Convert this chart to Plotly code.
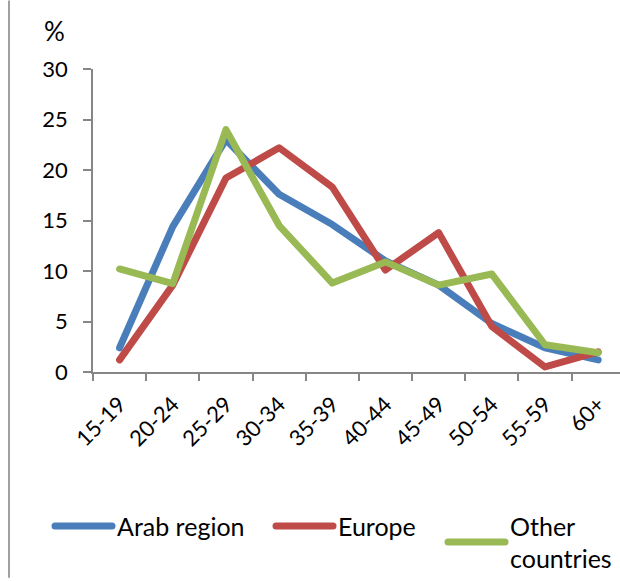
import plotly.graph_objects as go

categories = ["15-19", "20-24", "25-29", "30-34", "35-39", "40-44", "45-49", "50-54", "55-59", "60+"]
arab_region = [2.4, 14.4, 23.0, 17.6, 14.6, 11.0, 8.6, 4.8, 2.4, 1.2]
europe = [1.2, 8.6, 19.2, 22.2, 18.3, 10.1, 13.8, 4.5, 0.5, 2.0]
other_countries = [10.2, 8.75, 24.0, 14.5, 8.8, 10.9, 8.6, 9.7, 2.7, 1.9]
y_ticks = [0, 5, 10, 15, 20, 25, 30]

FONT = "Lato"
fig = go.Figure()
series = [
    ("Arab region", arab_region, "#4A7EBB", "legend"),
    ("Europe", europe, "#BE4B48", "legend2"),
    ("Other<br>countries", other_countries, "#98B954", "legend3"),
]
for name, vals, color, leg in series:
    fig.add_trace(go.Scatter(
        x=categories, y=vals, mode="lines", name=name,
        line=dict(color=color, width=7), legend=leg,
    ))

W, H = 620, 581
ml, mt, mb = 93, 69, 207
pw = W - ml
ph = H - mt - mb

def px2x(p):
    return (p - ml) / pw

def px2y(p):
    return (H - mb - p) / ph

leg_common = dict(orientation="h", bgcolor="rgba(0,0,0,0)",
                  font=dict(family=FONT, size=25, color="#000"),
                  xanchor="left", yanchor="top", tracegroupgap=0,
                  itemwidth=57)

fig.update_layout(
    width=W, height=H,
    margin=dict(l=ml, r=0, t=mt, b=mb),
    plot_bgcolor="white", paper_bgcolor="white",
    font=dict(family=FONT, size=22, color="#000"),
    xaxis=dict(
        type="category", range=[-0.5, 9.41],
        showline=True, linecolor="#868686", linewidth=1.5,
        ticks="outside", ticklen=7, tickcolor="#868686", tickwidth=1.5,
        tickson="boundaries", tickangle=-45, showgrid=False, zeroline=False,
        ticklabelstandoff=9,
        tickfont=dict(family=FONT, size=22, color="#000"),
    ),
    yaxis=dict(
        range=[0, 30], tickvals=y_ticks,
        showline=True, linecolor="#868686", linewidth=1.5,
        ticks="outside", ticklen=8, tickcolor="#868686", tickwidth=1.5,
        showgrid=False, zeroline=False, ticklabelstandoff=11,
        tickfont=dict(family=FONT, size=22, color="#000"),
    ),
    legend=dict(x=px2x(50), y=px2y(506), **leg_common),
    legend2=dict(x=px2x(271), y=px2y(506), **leg_common),
    legend3=dict(x=px2x(443), y=px2y(506), **leg_common),
    showlegend=True,
    annotations=[dict(
        text="%", xref="paper", yref="paper", x=px2x(54), y=px2y(31),
        xanchor="center", yanchor="middle", showarrow=False,
        font=dict(family=FONT, size=26, color="#000"),
    )],
    shapes=[dict(
        type="line", xref="paper", yref="paper",
        x0=px2x(9), x1=px2x(9), y0=px2y(0), y1=px2y(H),
        line=dict(color="#A0A0A0", width=2),
    )],
)

post = """
var gd = document.getElementById('{plot_id}');
function roundLines() {
  gd.querySelectorAll('.scatterlayer .js-line, .legendlines path').forEach(function (p) {
    p.style.strokeLinejoin = 'round';
    p.style.strokeLinecap = 'round';
  });
}
roundLines();
gd.on('plotly_afterplot', roundLines);
"""

fig.write_html("out.html", post_script=post)
